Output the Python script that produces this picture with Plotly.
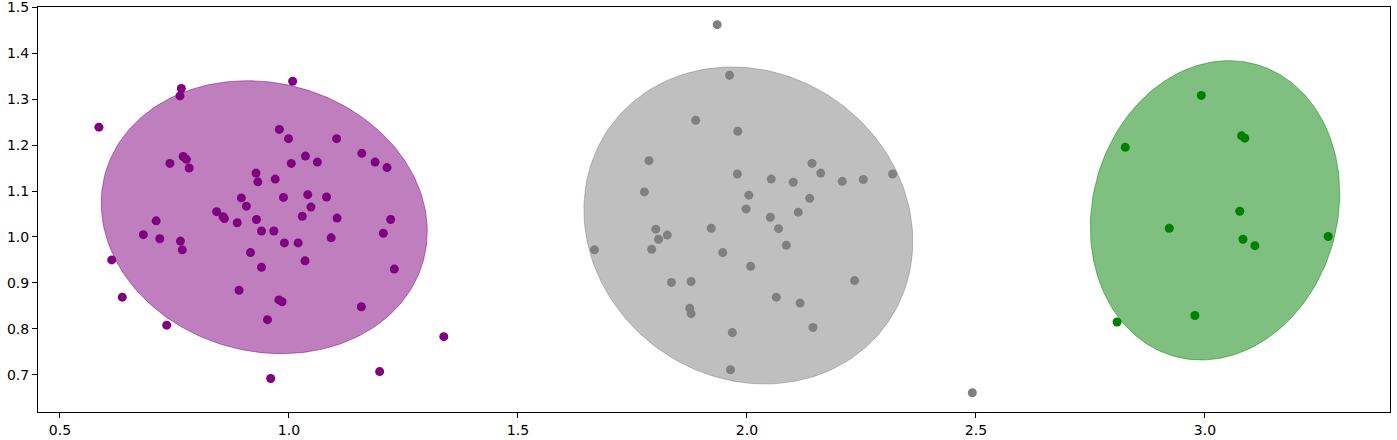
import numpy as np
import plotly.graph_objects as go

# cluster A (purple)
purple_x = [0.765, 0.762, 1.008, 0.585, 0.979, 0.999, 1.104, 1.159, 1.188, 1.214,
            1.036, 1.062, 1.005, 0.740, 0.769, 0.776, 0.782, 0.928, 0.932, 0.970,
            0.896, 0.907, 0.988, 1.041, 1.082, 1.048, 0.842, 0.856, 0.859, 0.887,
            0.929, 1.029, 1.105, 1.222, 0.940, 0.967, 0.990, 1.020, 1.092, 1.206,
            0.710, 0.682, 0.718, 0.763, 0.767, 0.916, 0.940, 1.035, 1.230, 0.613,
            0.636, 0.891, 0.978, 0.985, 1.158, 0.953, 0.733, 1.338, 1.198, 0.960]
purple_y = [1.323, 1.307, 1.339, 1.239, 1.234, 1.214, 1.214, 1.182, 1.163, 1.151,
            1.176, 1.163, 1.160, 1.160, 1.175, 1.169, 1.150, 1.139, 1.120, 1.126,
            1.085, 1.067, 1.086, 1.092, 1.087, 1.065, 1.055, 1.044, 1.040, 1.031,
            1.038, 1.045, 1.041, 1.038, 1.013, 1.013, 0.987, 0.987, 0.998, 1.008,
            1.035, 1.005, 0.996, 0.991, 0.972, 0.966, 0.934, 0.948, 0.930, 0.950,
            0.869, 0.884, 0.863, 0.859, 0.848, 0.820, 0.808, 0.783, 0.707, 0.692]

# cluster B (gray)
gray_x = [1.935, 1.962, 1.888, 1.980, 1.786, 1.979, 1.776, 2.053, 2.101, 2.142,
          2.161, 2.208, 2.254, 2.318, 2.004, 1.998, 2.137, 2.112, 2.051, 2.069,
          2.086, 1.801, 1.826, 1.807, 1.792, 1.922, 1.667, 1.947, 2.008, 1.835,
          1.878, 2.235, 2.064, 2.116, 1.875, 1.878, 2.144, 1.968, 1.964, 2.492]
gray_y = [1.462, 1.352, 1.254, 1.230, 1.166, 1.137, 1.098, 1.126, 1.119, 1.160,
          1.139, 1.121, 1.125, 1.137, 1.091, 1.061, 1.084, 1.054, 1.043, 1.018,
          0.982, 1.017, 1.004, 0.995, 0.973, 1.019, 0.972, 0.966, 0.936, 0.901,
          0.903, 0.905, 0.869, 0.856, 0.845, 0.833, 0.803, 0.792, 0.711, 0.661]

# cluster C (green)
green_x = [2.992, 3.080, 3.087, 2.826, 3.076, 2.922, 3.083, 3.109, 3.269, 2.978, 2.808]
green_y = [1.308, 1.220, 1.215, 1.195, 1.056, 1.019, 0.995, 0.981, 1.001, 0.829, 0.815]

# confidence ellipses: center x, center y, semi-major, semi-minor, angle (deg)
ellipse_purple = (0.946, 1.043, 0.360, 0.292, -14.9)
ellipse_gray = (2.003, 1.025, 0.3705, 0.3326, -34.1)
ellipse_green = (3.022, 1.058, 0.330, 0.267, 74.1)

clusters = [
    (purple_x, purple_y, ellipse_purple, (128, 0, 128)),
    (gray_x, gray_y, ellipse_gray, (128, 128, 128)),
    (green_x, green_y, ellipse_green, (0, 128, 0)),
]


def ellipse_outline(cx, cy, a, b, angle):
    t = np.linspace(0, 2 * np.pi, 200)
    th = np.deg2rad(angle)
    ex = cx + a * np.cos(t) * np.cos(th) - b * np.sin(t) * np.sin(th)
    ey = cy + a * np.cos(t) * np.sin(th) + b * np.sin(t) * np.cos(th)
    return ex, ey


fig = go.Figure()

for xs, ys, ell, (r, g, b) in clusters:
    ex, ey = ellipse_outline(*ell)
    fig.add_trace(go.Scatter(
        x=ex, y=ey, mode="lines", fill="toself",
        fillcolor=f"rgba({r},{g},{b},0.5)",
        line=dict(color=f"rgba({r},{g},{b},0.5)", width=1),
        hoverinfo="skip",
    ))

for xs, ys, ell, (r, g, b) in clusters:
    fig.add_trace(go.Scatter(
        x=xs, y=ys, mode="markers",
        marker=dict(size=9, color=f"rgb({r},{g},{b})", line=dict(width=0)),
    ))

axis_common = dict(
    showline=True, linecolor="black", linewidth=1, mirror=True,
    showgrid=False, zeroline=False, automargin=False,
    ticks="outside", ticklen=5, tickwidth=1, tickcolor="black",
    ticklabeloverflow="allow",
    tickfont=dict(family="DejaVu Sans", size=14, color="black"),
)
fig.update_xaxes(range=[0.452, 3.404], tickvals=[0.5, 1.0, 1.5, 2.0, 2.5, 3.0],
                 tickformat=".1f", **axis_common)
fig.update_yaxes(range=[0.619, 1.5005],
                 tickvals=[0.7, 0.8, 0.9, 1.0, 1.1, 1.2, 1.3, 1.4, 1.5],
                 tickformat=".1f", **axis_common)

fig.update_layout(
    width=1397, height=440,
    margin=dict(l=38, r=7, t=7, b=28),
    plot_bgcolor="white", paper_bgcolor="white",
    showlegend=False,
)

# page body has a default 8px margin; drop it so the figure sits at 0,0
fig.write_html("out.html", config={"displayModeBar": False},
               post_script="document.body.style.margin='0';")
